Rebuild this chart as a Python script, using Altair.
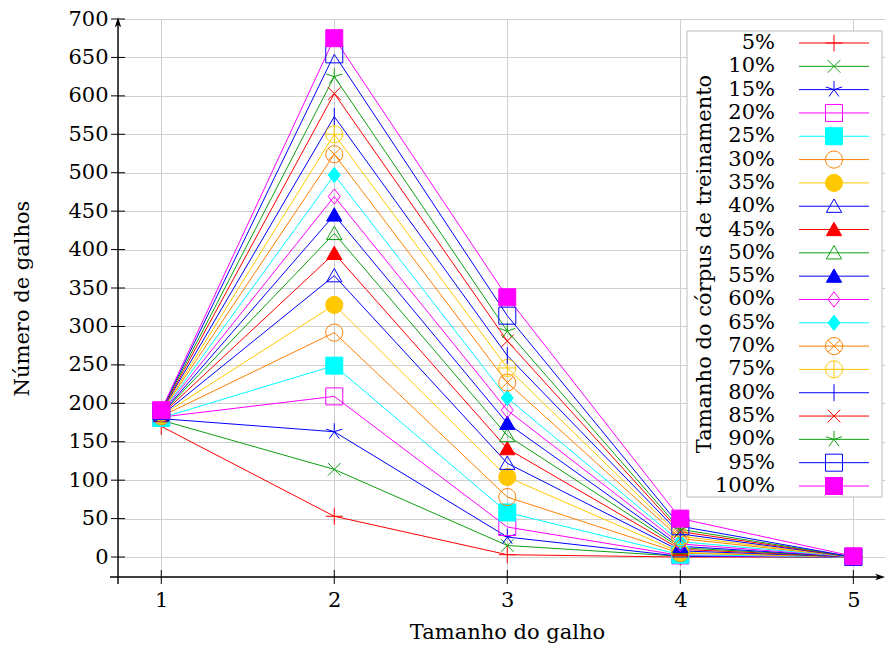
import altair as alt
import pandas as pd

labels = ['5%', '10%', '15%', '20%', '25%', '30%', '35%', '40%', '45%', '50%',
          '55%', '60%', '65%', '70%', '75%', '80%', '85%', '90%', '95%', '100%']
x_values = [1, 2, 3, 4, 5]
at_x1 = [170, 178, 180, 182, 181, 183, 184, 184, 185, 186, 186, 187, 187, 188, 188, 189, 189, 190, 190, 191]
at_x2 = [53, 114, 163, 209, 249, 292, 328, 366, 395, 421, 445, 469, 497, 524, 550, 573, 603, 625, 654, 675]
at_x3 = [3, 15, 26, 39, 58, 78, 104, 122, 141, 158, 174, 191, 207, 227, 246, 262, 281, 294, 314, 338]
at_x4 = [0, 1, 1, 2, 3, 5, 6, 8, 10, 12, 14, 17, 20, 24, 27, 30, 33, 36, 40, 50]
at_x5 = [0, 0, 0, 0, 0, 0, 0, 0, 0, 0, 0, 0, 0, 0, 0, 0, 0, 0, 0, 1]
y_ticks = [0, 50, 100, 150, 200, 250, 300, 350, 400, 450, 500, 550, 600, 650, 700]

RED, GREEN, BLUE, MAG, CYAN, ORANGE, GOLD = '#ff0000', '#10a010', '#0000ff', '#ff00ff', '#00ffff', '#ff8000', '#ffc800'
colors = [RED, GREEN, BLUE, MAG, CYAN, ORANGE, GOLD, BLUE, RED, GREEN,
          BLUE, MAG, CYAN, ORANGE, GOLD, BLUE, RED, GREEN, BLUE, MAG]
T = 'transparent'
fills = [T, T, T, T, CYAN, T, GOLD, T, RED, T,
         BLUE, T, CYAN, T, T, T, T, T, T, MAG]

CIRC = "M1,0C1,0.552,0.552,1,0,1C-0.552,1,-1,0.552,-1,0C-1,-0.552,-0.552,-1,0,-1C0.552,-1,1,-0.552,1,0Z"
PLUS = "M-1,0L1,0M0,-1L0,1"
XMARK = "M-0.75,-0.75L0.75,0.75M-0.75,0.75L0.75,-0.75"
STAR = "M0,0L0,-1M0,0L-0.951,-0.309M0,0L-0.588,0.809M0,0L0.588,0.809M0,0L0.951,-0.309"
SQ = "M-1,-1L1,-1L1,1L-1,1Z"
TRI = "M0,-0.85L0.9,0.72L-0.9,0.72Z"
DIA = "M0,-0.9L0.7,0L0,0.9L-0.7,0Z"
VBAR = "M0,-1L0,1"
OTIMES = CIRC + "M-0.707,-0.707L0.707,0.707M-0.707,0.707L0.707,-0.707"
OPLUS = CIRC + "M-1,0L1,0M0,-1L0,1"
shapes = [PLUS, XMARK, STAR, SQ, SQ, CIRC, CIRC, TRI, TRI, TRI,
          TRI, DIA, DIA, OTIMES, OPLUS, VBAR, XMARK, STAR, SQ, SQ]

series_by_x = [at_x1, at_x2, at_x3, at_x4, at_x5]
rows = []
for i, lab in enumerate(labels):
    for j, xv in enumerate(x_values):
        rows.append({'label': lab, 'x': xv, 'y': series_by_x[j][i]})
df = pd.DataFrame(rows)

FONT = 'DejaVu Serif'
FS = 21
W, H = 767, 558

xs = alt.Scale(domain=[0.75, 5.183], nice=False, zero=False)
ys = alt.Scale(domain=[-26, 700], nice=False, zero=False)
stroke_scale = alt.Scale(domain=labels, range=colors)
fill_scale = alt.Scale(domain=labels, range=fills)
shape_scale = alt.Scale(domain=labels, range=shapes)

x_axis = alt.Axis(values=x_values, format='d', grid=True, gridColor='#cfcfcf', gridWidth=1,
                  ticks=False, tickSize=0, domain=False, labelPadding=12,
                  labelFont=FONT, labelFontSize=FS, labelColor='black',
                  title='Tamanho do galho', titleFont=FONT, titleFontSize=FS,
                  titleFontWeight='normal', titleColor='black',
                  titleX=389, titleY=55, titleAlign='center', titleBaseline='middle')
y_axis = alt.Axis(values=y_ticks, grid=True, gridColor='#cfcfcf', gridWidth=1,
                  ticks=False, tickSize=0, domain=False, labelPadding=10,
                  labelFont=FONT, labelFontSize=FS, labelColor='black',
                  title='Número de galhos', titleFont=FONT, titleFontSize=FS,
                  titleFontWeight='normal', titleColor='black',
                  titleX=-96, titleY=279, titleAngle=270, titleAlign='center',
                  titleBaseline='middle')

lines = alt.Chart(df).mark_line(strokeWidth=1).encode(
    x=alt.X('x:Q', scale=xs, axis=x_axis),
    y=alt.Y('y:Q', scale=ys, axis=y_axis),
    stroke=alt.Stroke('label:N', scale=stroke_scale, legend=None),
    order=alt.Order('x:Q'),
)
points = alt.Chart(df).mark_point(size=289, strokeWidth=1, opacity=1, filled=False).encode(
    x=alt.X('x:Q', scale=xs, axis=x_axis),
    y=alt.Y('y:Q', scale=ys, axis=y_axis),
    shape=alt.Shape('label:N', scale=shape_scale, legend=None),
    stroke=alt.Stroke('label:N', scale=stroke_scale, legend=None),
    fill=alt.Fill('label:N', scale=fill_scale, legend=None),
)

one = pd.DataFrame({'a': [0]})
tick_df_y = pd.DataFrame({'y': y_ticks})
tick_df_x = pd.DataFrame({'x': x_values})
yticks = alt.Chart(tick_df_y).mark_rule(color='black', strokeWidth=1).encode(
    y=alt.Y('y:Q', scale=ys, axis=y_axis), x=alt.value(-7), x2=alt.value(7))
xticks = alt.Chart(tick_df_x).mark_rule(color='black', strokeWidth=1).encode(
    x=alt.X('x:Q', scale=xs, axis=x_axis), y=alt.value(H - 7), y2=alt.value(H + 7))
yaxis_line = alt.Chart(one).mark_rule(color='black', strokeWidth=1.4).encode(
    x=alt.value(0), y=alt.value(4), y2=alt.value(H + 7))
xaxis_line = alt.Chart(one).mark_rule(color='black', strokeWidth=1.4).encode(
    x=alt.value(-8), x2=alt.value(W - 5), y=alt.value(H))
up_arrow = alt.Chart(one).mark_point(
    shape="M0,-1L0.6,0.9L0,0.45L-0.6,0.9Z", size=110, filled=True, color='black', opacity=1
).encode(x=alt.value(0), y=alt.value(3.5))
right_arrow = alt.Chart(one).mark_point(
    shape="M1,0L-0.9,0.6L-0.45,0L-0.9,-0.6Z", size=110, filled=True, color='black', opacity=1
).encode(x=alt.value(W - 5), y=alt.value(H))

main = alt.layer(lines, points, yticks, xticks, yaxis_line, xaxis_line, up_arrow, right_arrow)

legend_df = pd.DataFrame({'label': labels})
leg_y = alt.Y('label:N', sort=labels,
              scale=alt.Scale(type='point', domain=labels, range=[24, 467], padding=0), axis=None)
box = alt.Chart(one).mark_rect(fill='white', stroke='#bdbdbd', strokeWidth=1).encode(
    x=alt.value(569), x2=alt.value(764), y=alt.value(12), y2=alt.value(478))
leg_lines = alt.Chart(legend_df).mark_rule(strokeWidth=1).encode(
    y=leg_y, x=alt.value(681), x2=alt.value(751),
    stroke=alt.Stroke('label:N', scale=stroke_scale, legend=None))
leg_pts = alt.Chart(legend_df).mark_point(size=289, strokeWidth=1, opacity=1, filled=False).encode(
    y=leg_y, x=alt.value(716),
    shape=alt.Shape('label:N', scale=shape_scale, legend=None),
    stroke=alt.Stroke('label:N', scale=stroke_scale, legend=None),
    fill=alt.Fill('label:N', scale=fill_scale, legend=None))
leg_text = alt.Chart(legend_df).mark_text(align='right', baseline='middle', font=FONT,
                                          fontSize=FS, color='black').encode(
    y=leg_y, x=alt.value(657), text='label:N')
leg_title = alt.Chart(one).mark_text(angle=270, align='center', baseline='middle', font=FONT,
                                     fontSize=FS, color='black').encode(
    x=alt.value(587), y=alt.value(245), text=alt.value('Tamanho do córpus de treinamento'))

legend = alt.layer(box, leg_lines, leg_pts, leg_text, leg_title)

chart = alt.layer(main, legend).resolve_scale(y='independent').properties(
    width=W, height=H,
    autosize=alt.AutoSizeParams(type='none'),
    padding={'left': 110, 'top': 11, 'right': 0, 'bottom': 67},
).configure_view(stroke=None).configure(background='white')

chart.save('out.html', embed_options={'renderer': 'svg', 'actions': False})
